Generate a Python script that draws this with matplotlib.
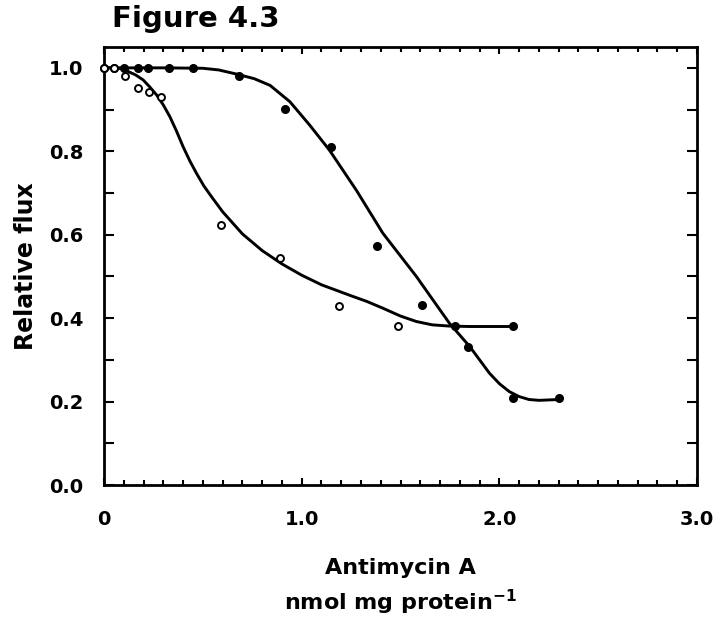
import matplotlib
matplotlib.use("Agg")
import matplotlib.pyplot as plt
from matplotlib.ticker import MultipleLocator, FixedLocator

plt.rcParams['font.family'] = ['DejaVu Sans']
plt.rcParams['mathtext.fontset'] = 'dejavusans'

# Open-circle series (points)
open_x = [0.0, 0.05, 0.106, 0.17, 0.227, 0.288, 0.59, 0.889, 1.19, 1.486]
open_y = [1.0, 1.0, 0.981, 0.951, 0.942, 0.930, 0.624, 0.544, 0.43, 0.381]

# Filled-circle series (points)
filled_x = [0.0, 0.05, 0.10, 0.17, 0.22, 0.33, 0.45, 0.682, 0.918, 1.148,
            1.382, 1.61, 1.778, 1.843, 2.067, 2.07, 2.303]
filled_y = [1.0, 1.0, 1.0, 1.0, 1.0, 1.0, 1.0, 0.981, 0.901, 0.811,
            0.573, 0.432, 0.381, 0.332, 0.381, 0.209, 0.209]

# Fitted curve, open series
curve1_x = [0.0, 0.06, 0.09, 0.123, 0.16, 0.198, 0.23, 0.266, 0.30, 0.333, 0.367, 0.40,
            0.434, 0.468, 0.505, 0.544, 0.60, 0.70, 0.80, 0.90, 1.00, 1.10, 1.242,
            1.33, 1.41, 1.50, 1.58, 1.66, 1.747, 1.85, 2.067]
curve1_y = [1.0, 1.0, 0.998, 0.991, 0.983, 0.971, 0.955, 0.935, 0.911, 0.883, 0.848, 0.811,
            0.777, 0.747, 0.717, 0.691, 0.655, 0.602, 0.562, 0.530, 0.503, 0.480, 0.455,
            0.440, 0.424, 0.405, 0.392, 0.384, 0.381, 0.38, 0.38]

# Fitted curve, filled series
curve2_x = [0.0, 0.3, 0.5, 0.58, 0.68, 0.76, 0.84, 0.94, 1.04, 1.14, 1.276, 1.41,
            1.58, 1.747, 1.85, 1.95, 2.0, 2.05, 2.10, 2.15, 2.20, 2.303]
curve2_y = [1.0, 1.0, 0.999, 0.995, 0.984, 0.974, 0.958, 0.919, 0.863, 0.803, 0.707, 0.604,
            0.50, 0.388, 0.332, 0.268, 0.243, 0.224, 0.212, 0.205, 0.203, 0.205]

x_major = [0.0, 1.0, 2.0, 3.0]
x_labels = ['0', '1.0', '2.0', '3.0']
y_major = [0.0, 0.2, 0.4, 0.6, 0.8, 1.0]
y_labels = ['0.0', '0.2', '0.4', '0.6', '0.8', '1.0']

fig = plt.figure(figsize=(7.16, 6.2), dpi=100)
ax = fig.add_axes([0.1453, 0.2177, 0.8282, 0.7065])

ax.plot(curve1_x, curve1_y, color='black', lw=2.1, solid_capstyle='round',
        solid_joinstyle='round', zorder=2)
ax.plot(curve2_x, curve2_y, color='black', lw=2.1, solid_capstyle='round',
        solid_joinstyle='round', zorder=2)
ax.plot(filled_x, filled_y, 'o', color='black', ms=5.5, zorder=3, clip_on=False)
ax.plot(open_x, open_y, 'o', mfc='white', mec='black', mew=1.4, ms=5, zorder=4, clip_on=False)

ax.set_xlim(0, 3.0)
ax.set_ylim(0, 1.05)

ax.xaxis.set_major_locator(FixedLocator(x_major))
ax.set_xticklabels(x_labels)
ax.xaxis.set_minor_locator(MultipleLocator(0.1))
ax.yaxis.set_major_locator(FixedLocator(y_major))
ax.set_yticklabels(y_labels)
ax.yaxis.set_minor_locator(MultipleLocator(0.1))

ax.tick_params(which='both', direction='in', top=True, right=True, width=1.5, color='black')
ax.tick_params(axis='y', which='both', length=7)
ax.tick_params(axis='x', which='major', length=5)
ax.tick_params(axis='x', which='minor', length=3.5)
ax.tick_params(axis='x', which='both', pad=18, labelsize=14)
ax.tick_params(axis='y', which='both', pad=15, labelsize=14)
for lab in ax.get_xticklabels() + ax.get_yticklabels():
    lab.set_fontweight('bold')

for s in ax.spines.values():
    s.set_linewidth(2.0)

ax.set_ylabel('Relative flux', fontsize=17, fontweight='bold', labelpad=8)
ax.set_xlabel('Antimycin A\nnmol mg protein$^{\\mathbf{-1}}$', fontsize=16, fontweight='bold',
              labelpad=21, linespacing=1.45)
fig.text(0.157, 0.97, 'Figure 4.3', fontsize=21, fontweight='bold', ha='left', va='center')

fig.savefig('out.png', dpi=100, facecolor='white')
